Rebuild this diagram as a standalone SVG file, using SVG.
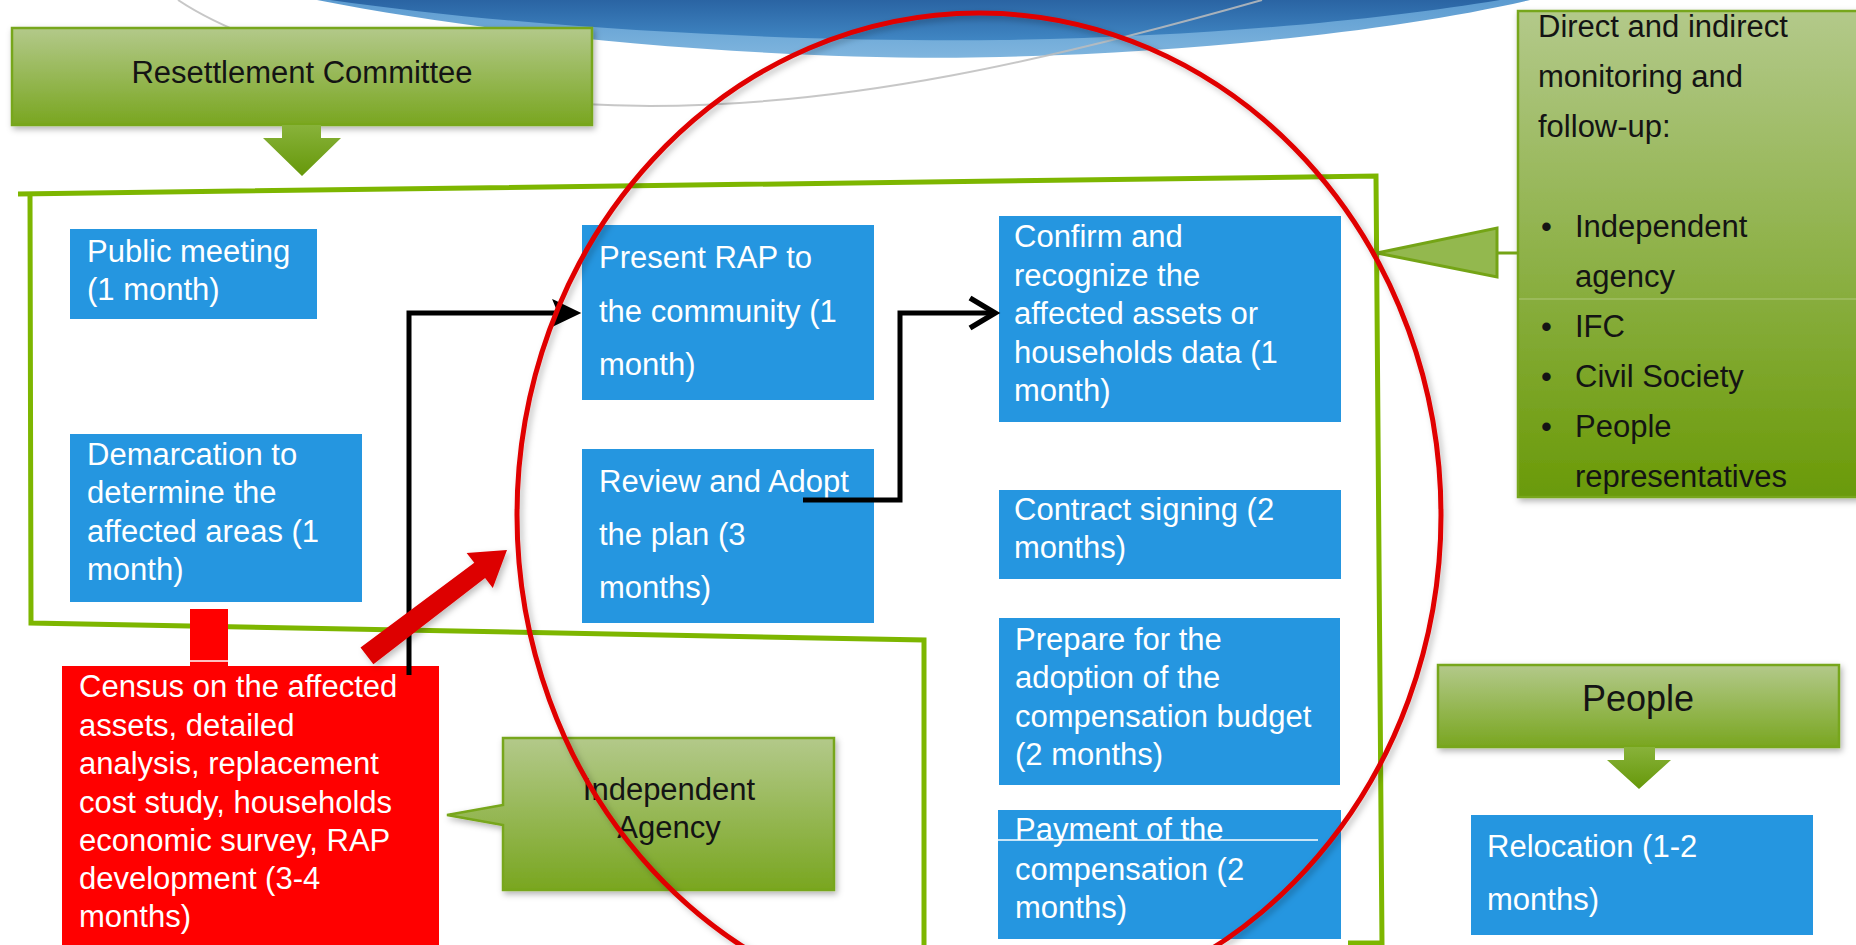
<svg xmlns="http://www.w3.org/2000/svg" width="1856" height="945" viewBox="0 0 1856 945">
<defs>
<style>
.blue{fill:#2596e0}
.wt{fill:#ffffff;font-family:"Liberation Sans",Arial,sans-serif;font-size:31px}
.bt{fill:#141414;font-family:"Liberation Sans",Arial,sans-serif;font-size:31px}
.frame{fill:none;stroke:#7db600;stroke-width:5;stroke-linejoin:miter}
.gbox{fill:url(#gg);stroke:#77a61a;stroke-width:2.5;filter:url(#sh)}
.conn{fill:none;stroke:#000;stroke-width:5;stroke-linejoin:miter}
</style>
<linearGradient id="gg" x1="0" y1="0" x2="0" y2="1">
<stop offset="0" stop-color="#b3c98a"/>
<stop offset="1" stop-color="#79a620"/>
</linearGradient>
<linearGradient id="gtall" x1="0" y1="0" x2="0" y2="1">
<stop offset="0" stop-color="#b3c98a"/>
<stop offset="1" stop-color="#6a9a08"/>
</linearGradient>
<linearGradient id="garr" x1="0" y1="0" x2="0" y2="1">
<stop offset="0" stop-color="#88b23a"/>
<stop offset="1" stop-color="#66980a"/>
</linearGradient>
<linearGradient id="bl1" x1="0" y1="0" x2="0" y2="1">
<stop offset="0" stop-color="#5c9bd0"/>
<stop offset="1" stop-color="#7fb5de"/>
</linearGradient>
<linearGradient id="bl2" x1="0" y1="0" x2="0" y2="1">
<stop offset="0" stop-color="#2a64a3"/>
<stop offset="1" stop-color="#4086c3"/>
</linearGradient>
<filter id="sh" x="-10%" y="-10%" width="130%" height="130%">
<feDropShadow dx="2" dy="3" stdDeviation="3" flood-color="#000" flood-opacity="0.3"/>
</filter>
<filter id="esh" x="-10%" y="-10%" width="120%" height="120%">
<feDropShadow dx="3" dy="3" stdDeviation="3" flood-color="#000" flood-opacity="0.25"/>
</filter>
</defs>
<rect width="1856" height="945" fill="#ffffff"/>
<g id="background">
<path d="M317,0 C520,40 800,62 1000,57 C1200,52 1400,30 1530,0 Z" fill="url(#bl1)"/>
<path d="M330,0 C540,30 800,42 1000,40 C1200,37 1380,20 1500,0 Z" fill="url(#bl2)"/>
<path d="M178,0 C260,55 450,105 650,106 C850,106 1050,60 1262,0" fill="none" stroke="#bdbdbd" stroke-width="2" opacity="0.85"/>
</g>
<g id="frame">
<path class="frame" d="M18,194 L1376,176 L1382,943 L1348,943"/>
<path class="frame" d="M30,194 L31,623 L924,640 L924,945"/>
</g>
<g id="resettlement-committee">
<rect class="gbox" x="12" y="28" width="580" height="97"/>
<path d="M282,125 H321 V138 H341 L302,176 L263,138 H282 Z" fill="url(#garr)"/>
<text class="bt" x="302" y="83" text-anchor="middle">Resettlement Committee</text>
</g>
<g id="monitoring">
<rect x="1518" y="11" width="360" height="486" fill="url(#gtall)" stroke="#77a61a" stroke-width="2.5" filter="url(#sh)"/>
<line x1="1519" y1="299" x2="1856" y2="299" stroke="#c8d9a0" stroke-width="1" opacity="0.6"/>
<path d="M1518,253 H1497 V228 L1377,253 L1497,277 V253" fill="#93b84e" stroke="#74a416" stroke-width="3"/>
<text class="bt" x="1538" y="37">Direct and indirect</text>
<text class="bt" x="1538" y="87">monitoring and</text>
<text class="bt" x="1538" y="137">follow-up:</text>
<text class="bt" x="1541" y="237">•</text><text class="bt" x="1575" y="237">Independent</text>
<text class="bt" x="1575" y="287">agency</text>
<text class="bt" x="1541" y="337">•</text><text class="bt" x="1575" y="337">IFC</text>
<text class="bt" x="1541" y="387">•</text><text class="bt" x="1575" y="387">Civil Society</text>
<text class="bt" x="1541" y="437">•</text><text class="bt" x="1575" y="437">People</text>
<text class="bt" x="1575" y="487">representatives</text>
</g>
<g id="people">
<rect class="gbox" x="1438" y="665" width="401" height="82"/>
<path d="M1624,747 H1655 V760 H1671 L1639,789 L1607,760 H1624 Z" fill="url(#garr)"/>
<text class="bt" x="1638" y="711" text-anchor="middle" style="font-size:36px">People</text>
</g>
<g id="independent-agency">
<path d="M503,738 H834 V890 H503 V825 L447,815 L503,805 Z" fill="url(#gg)" stroke="#77a61a" stroke-width="2.5" filter="url(#sh)"/>
<text class="bt" x="669" y="800" text-anchor="middle">Independent</text>
<text class="bt" x="669" y="838" text-anchor="middle">Agency</text>
</g>
<g id="public-meeting">
<rect class="blue" x="70" y="229" width="247" height="90"/>
<text class="wt" x="87" y="262">Public meeting</text>
<text class="wt" x="87" y="300">(1 month)</text>
</g>
<g id="demarcation">
<rect class="blue" x="70" y="434" width="292" height="168"/>
<text class="wt" x="87" y="465">Demarcation to</text>
<text class="wt" x="87" y="503">determine the</text>
<text class="wt" x="87" y="542">affected areas (1</text>
<text class="wt" x="87" y="580">month)</text>
</g>
<g id="present-rap">
<rect class="blue" x="582" y="225" width="292" height="175"/>
<text class="wt" x="599" y="268">Present RAP to</text>
<text class="wt" x="599" y="322">the community (1</text>
<text class="wt" x="599" y="375">month)</text>
</g>
<g id="review-adopt">
<rect class="blue" x="582" y="449" width="292" height="174"/>
<text class="wt" x="599" y="492">Review and Adopt</text>
<text class="wt" x="599" y="545">the plan (3</text>
<text class="wt" x="599" y="598">months)</text>
</g>
<g id="confirm">
<rect class="blue" x="999" y="216" width="342" height="206"/>
<text class="wt" x="1014" y="247">Confirm and</text>
<text class="wt" x="1014" y="286">recognize the</text>
<text class="wt" x="1014" y="324">affected assets or</text>
<text class="wt" x="1014" y="363">households data (1</text>
<text class="wt" x="1014" y="401">month)</text>
</g>
<g id="contract">
<rect class="blue" x="999" y="490" width="342" height="89"/>
<text class="wt" x="1014" y="520">Contract signing (2</text>
<text class="wt" x="1014" y="558">months)</text>
</g>
<g id="prepare-budget">
<rect class="blue" x="999" y="618" width="341" height="167"/>
<text class="wt" x="1015" y="650">Prepare for the</text>
<text class="wt" x="1015" y="688">adoption of the</text>
<text class="wt" x="1015" y="727">compensation budget</text>
<text class="wt" x="1015" y="765">(2 months)</text>
</g>
<g id="payment">
<rect class="blue" x="998" y="810" width="343" height="129"/>
<text class="wt" x="1015" y="840">Payment of the</text>
<line x1="998" y1="840" x2="1318" y2="840" stroke="#fff" stroke-width="1.5"/>
<text class="wt" x="1015" y="880">compensation (2</text>
<text class="wt" x="1015" y="918">months)</text>
</g>
<g id="relocation">
<rect class="blue" x="1471" y="815" width="342" height="120"/>
<text class="wt" x="1487" y="857">Relocation (1-2</text>
<text class="wt" x="1487" y="910">months)</text>
</g>
<g id="census">
<rect x="190" y="609" width="38" height="57" fill="#ff0000"/>
<line x1="190" y1="661" x2="228" y2="661" stroke="#fff" stroke-width="1.5"/>
<rect x="62" y="666" width="377" height="290" fill="#ff0000"/>
<text class="wt" x="79" y="697">Census on the affected</text>
<text class="wt" x="79" y="736">assets, detailed</text>
<text class="wt" x="79" y="774">analysis, replacement</text>
<text class="wt" x="79" y="813">cost study, households</text>
<text class="wt" x="79" y="851">economic survey, RAP</text>
<text class="wt" x="79" y="889">development (3-4</text>
<text class="wt" x="79" y="927">months)</text>
</g>
<g id="connectors">
<path class="conn" d="M409,675 V313 H560"/>
<path d="M554,301 L579,313 L554,325 L559,313 Z" fill="#000" stroke="#000" stroke-width="2"/>
<path class="conn" d="M803,500 H900 V313 H993"/>
<path d="M970,298 L995,313 L970,328" fill="none" stroke="#000" stroke-width="5.5" stroke-linejoin="miter"/>
<polygon points="360.5,647.5 474.3,562.7 466.6,552.9 507,550 492.8,587.9 485.1,578.1 373.4,664.2" fill="#dd0000" filter="url(#esh)"/>
</g>
<g id="highlight">
<ellipse cx="979" cy="515" rx="462" ry="502" fill="none" stroke="#e00000" stroke-width="5" filter="url(#esh)"/>
</g>
</svg>
